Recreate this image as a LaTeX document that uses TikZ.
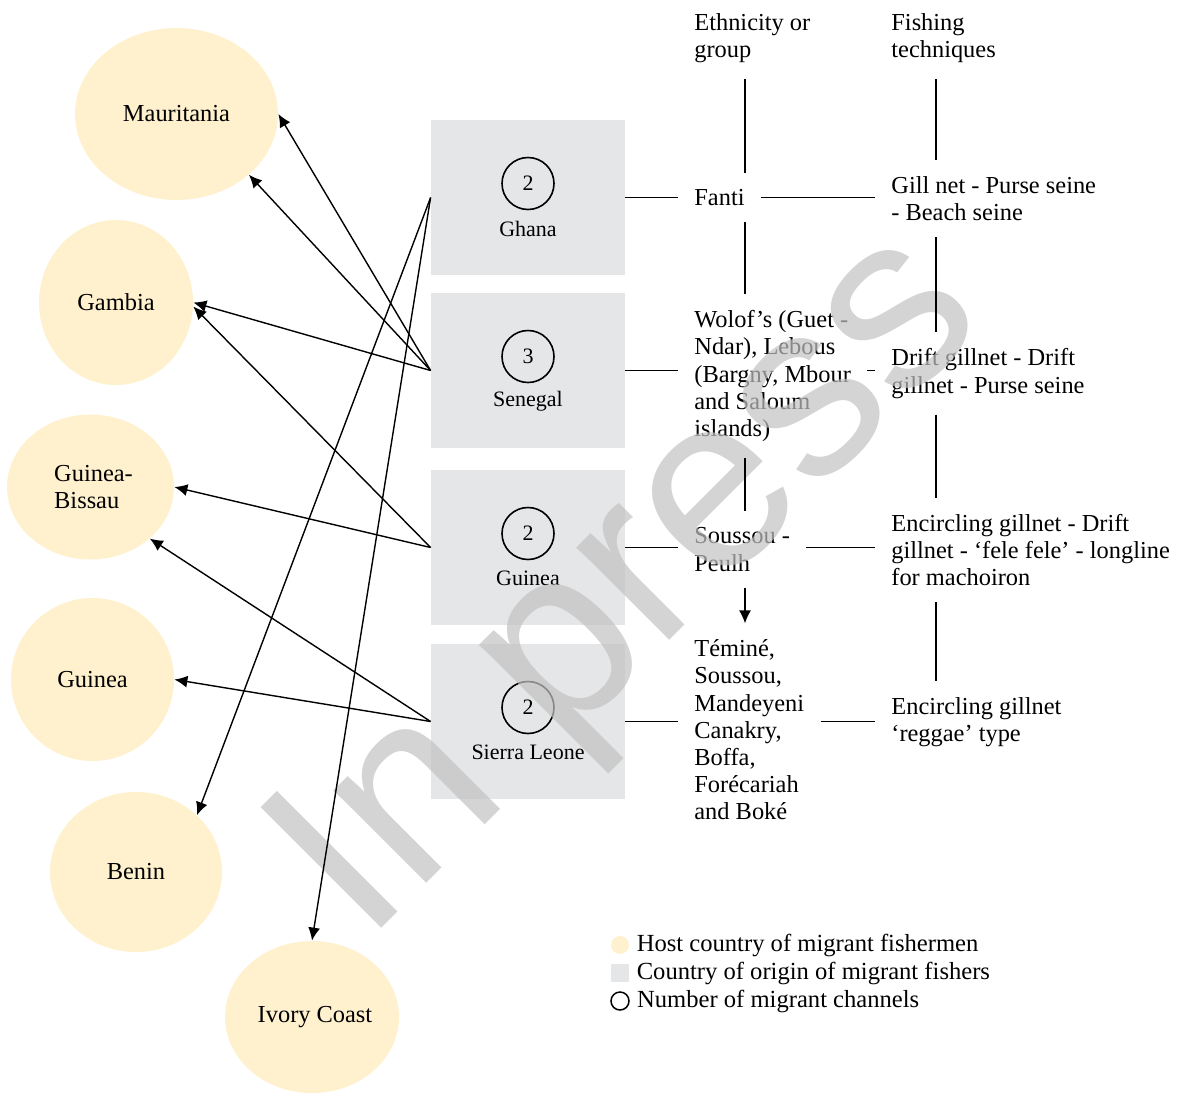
\documentclass[tikz,border=0pt]{standalone}
\usepackage{fontspec}
\setmainfont{Liberation Serif}
\newfontfamily\wmfont{Liberation Sans}
\usetikzlibrary{shapes.geometric,arrows.meta,positioning}
\definecolor{hostfill}{RGB}{255,241,206}
\definecolor{originfill}{RGB}{229,230,232}
\begin{document}
\begin{tikzpicture}[x=0.5pt,y=-0.5pt,
		font=\fontsize{12.2}{13.6}\selectfont,
		host/.style={ellipse,fill=hostfill,inner sep=0pt},
		origin/.style={rectangle,fill=originfill,minimum width=97pt,minimum height=77.5pt,inner sep=0pt},
		channels/.style={circle,draw,line width=0.8pt,minimum size=26pt,inner sep=0pt,font=\fontsize{11}{13}\selectfont},
		originname/.style={inner sep=0pt,font=\fontsize{11}{13}\selectfont},
		cell/.style={anchor=west,align=left,inner xsep=8pt,inner ysep=8pt},
		legendtext/.style={right=3.5pt of #1,inner sep=0pt,font=\fontsize{12.3}{13.6}\selectfont},
		link/.style={line width=0.7pt},
		migrate/.style={line width=0.7pt,-{Latex[length=6.5pt,width=6pt]}}]
	\useasboundingbox (0,0) rectangle (1179,1093);
	\foreach \id/\y/\count/\name in {ghana/197.5/2/Ghana,senegal/370.5/3/Senegal,guineaorig/547.5/2/Guinea,sierra/721.5/2/Sierra Leone}{
		\node (\id) [origin] at (528,\y) {};
		\node (\id count) [channels] at ([yshift=7pt]\id.center) {\count};
		\node (\id name) [originname] at ([yshift=-15.5pt]\id.center) {\name};
	}
	\node (mauritania) [host,minimum width=101.5pt,minimum height=86pt] at (176.5,114) {Mauritania};
	\node (gambia) [host,minimum width=77pt,minimum height=82.5pt] at (116,302.5) {Gambia};
	\node (bissau) [host,minimum width=83.5pt,minimum height=72.5pt,align=left] at (90.5,487) {\hspace*{3pt}Guinea-\\\hspace*{3pt}Bissau};
	\node (guinea) [host,minimum size=81.5pt] at (92.5,679.5) {Guinea};
	\node (benin) [host,minimum width=86pt,minimum height=80pt] at (136,872) {Benin};
	\node (ivory) [host,minimum width=87pt,minimum height=76pt] at (312,1017) {\hspace*{3pt}Ivory Coast};
	\node (ethhead) [cell] at (678,38) {Ethnicity or\\group};
	\node (techhead) [cell] at (875,38) {Fishing\\techniques};
	\node (fanti) [cell] at (678,197.5) {Fanti};
	\node (gillnet) [cell] at (875,198.5) {Gill net - Purse seine\\- Beach seine};
	\node (wolof) [cell] at (678,376) {Wolof’s (Guet -\\Ndar), Lebous\\(Bargny, Mbour\\and Saloum\\islands)};
	\node (driftnet) [cell] at (875,373.5) {Drift gillnet - Drift\\gillnet - Purse seine};
	\node (soussou) [cell] at (678,549.5) {Soussou -\\Peulh};
	\node (encircling) [cell] at (875,550) {Encircling gillnet - Drift\\gillnet - ‘fele fele’ - longline\\for machoiron};
	\node (temine) [cell] at (678,730) {Téminé,\\Soussou,\\Mandeyeni\\Canakry,\\Boffa,\\Forécariah\\and Boké};
	\node (reggae) [cell] at (875,722) {Encircling gillnet\\‘reggae’ type};
	\node (leghost) [circle,fill=hostfill,minimum size=9pt,inner sep=0pt] at (620,945) {};
	\node (leghosttext) [legendtext=leghost] {Host country of migrant fishermen};
	\node (legorigin) [rectangle,fill=originfill,minimum size=9pt,inner sep=0pt] at (620,973) {};
	\node (legorigintext) [legendtext=legorigin] {Country of origin of migrant fishers};
	\node (legcount) [circle,draw,line width=0.75pt,minimum size=9pt,inner sep=0pt] at (620,1001) {};
	\node (legcounttext) [legendtext=legcount] {Number of migrant channels};
	\node (watermark) [rotate=45,anchor=base west,inner sep=0pt,font=\wmfont\fontsize{124}{124}\selectfont,text=black!24,opacity=0.7] at (365,945) {In press};
	\coordinate (ethcol) at (745,0);
	\coordinate (techcol) at (936,0);
	\draw [link] (ghana.east) -- (fanti.west |- ghana.east);
	\draw [link] (fanti.east |- ghana.east) -- (gillnet.west |- ghana.east);
	\draw [link] (senegal.east) -- (wolof.west |- senegal.east);
	\draw [link] (wolof.east |- senegal.east) -- (driftnet.west |- senegal.east);
	\draw [link] (guineaorig.east) -- (soussou.west |- guineaorig.east);
	\draw [link] (soussou.east |- guineaorig.east) -- (encircling.west |- guineaorig.east);
	\draw [link] (sierra.east) -- (temine.west |- sierra.east);
	\draw [link] (temine.east |- sierra.east) -- (reggae.west |- sierra.east);
	\draw [link] (ethhead.south -| ethcol) -- (fanti.north -| ethcol);
	\draw [link] (fanti.south -| ethcol) -- (wolof.north -| ethcol);
	\draw [link] (wolof.south -| ethcol) -- (soussou.north -| ethcol);
	\draw [migrate] (soussou.south -| ethcol) -- (temine.north -| ethcol);
	\draw [link] (techhead.south -| techcol) -- (gillnet.north -| techcol);
	\draw [link] (gillnet.south -| techcol) -- (driftnet.north -| techcol);
	\draw [link] (driftnet.south -| techcol) -- (encircling.north -| techcol);
	\draw [link] (encircling.south -| techcol) -- (reggae.north -| techcol);
	\draw [migrate] (senegal.west) -- (mauritania.east);
	\draw [migrate] (senegal.west) -- (mauritania.-40);
	\draw [migrate] (senegal.west) -- (gambia.east);
	\draw [migrate] (guineaorig.west) -- (gambia.-3);
	\draw [migrate] (guineaorig.west) -- (bissau.east);
	\draw [migrate] (sierra.west) -- (bissau.-41);
	\draw [migrate] (sierra.west) -- (guinea.east);
	\draw [migrate] (ghana.west) -- (benin.43);
	\draw [migrate] (ghana.west) -- (ivory.north);
\end{tikzpicture}
\end{document}
